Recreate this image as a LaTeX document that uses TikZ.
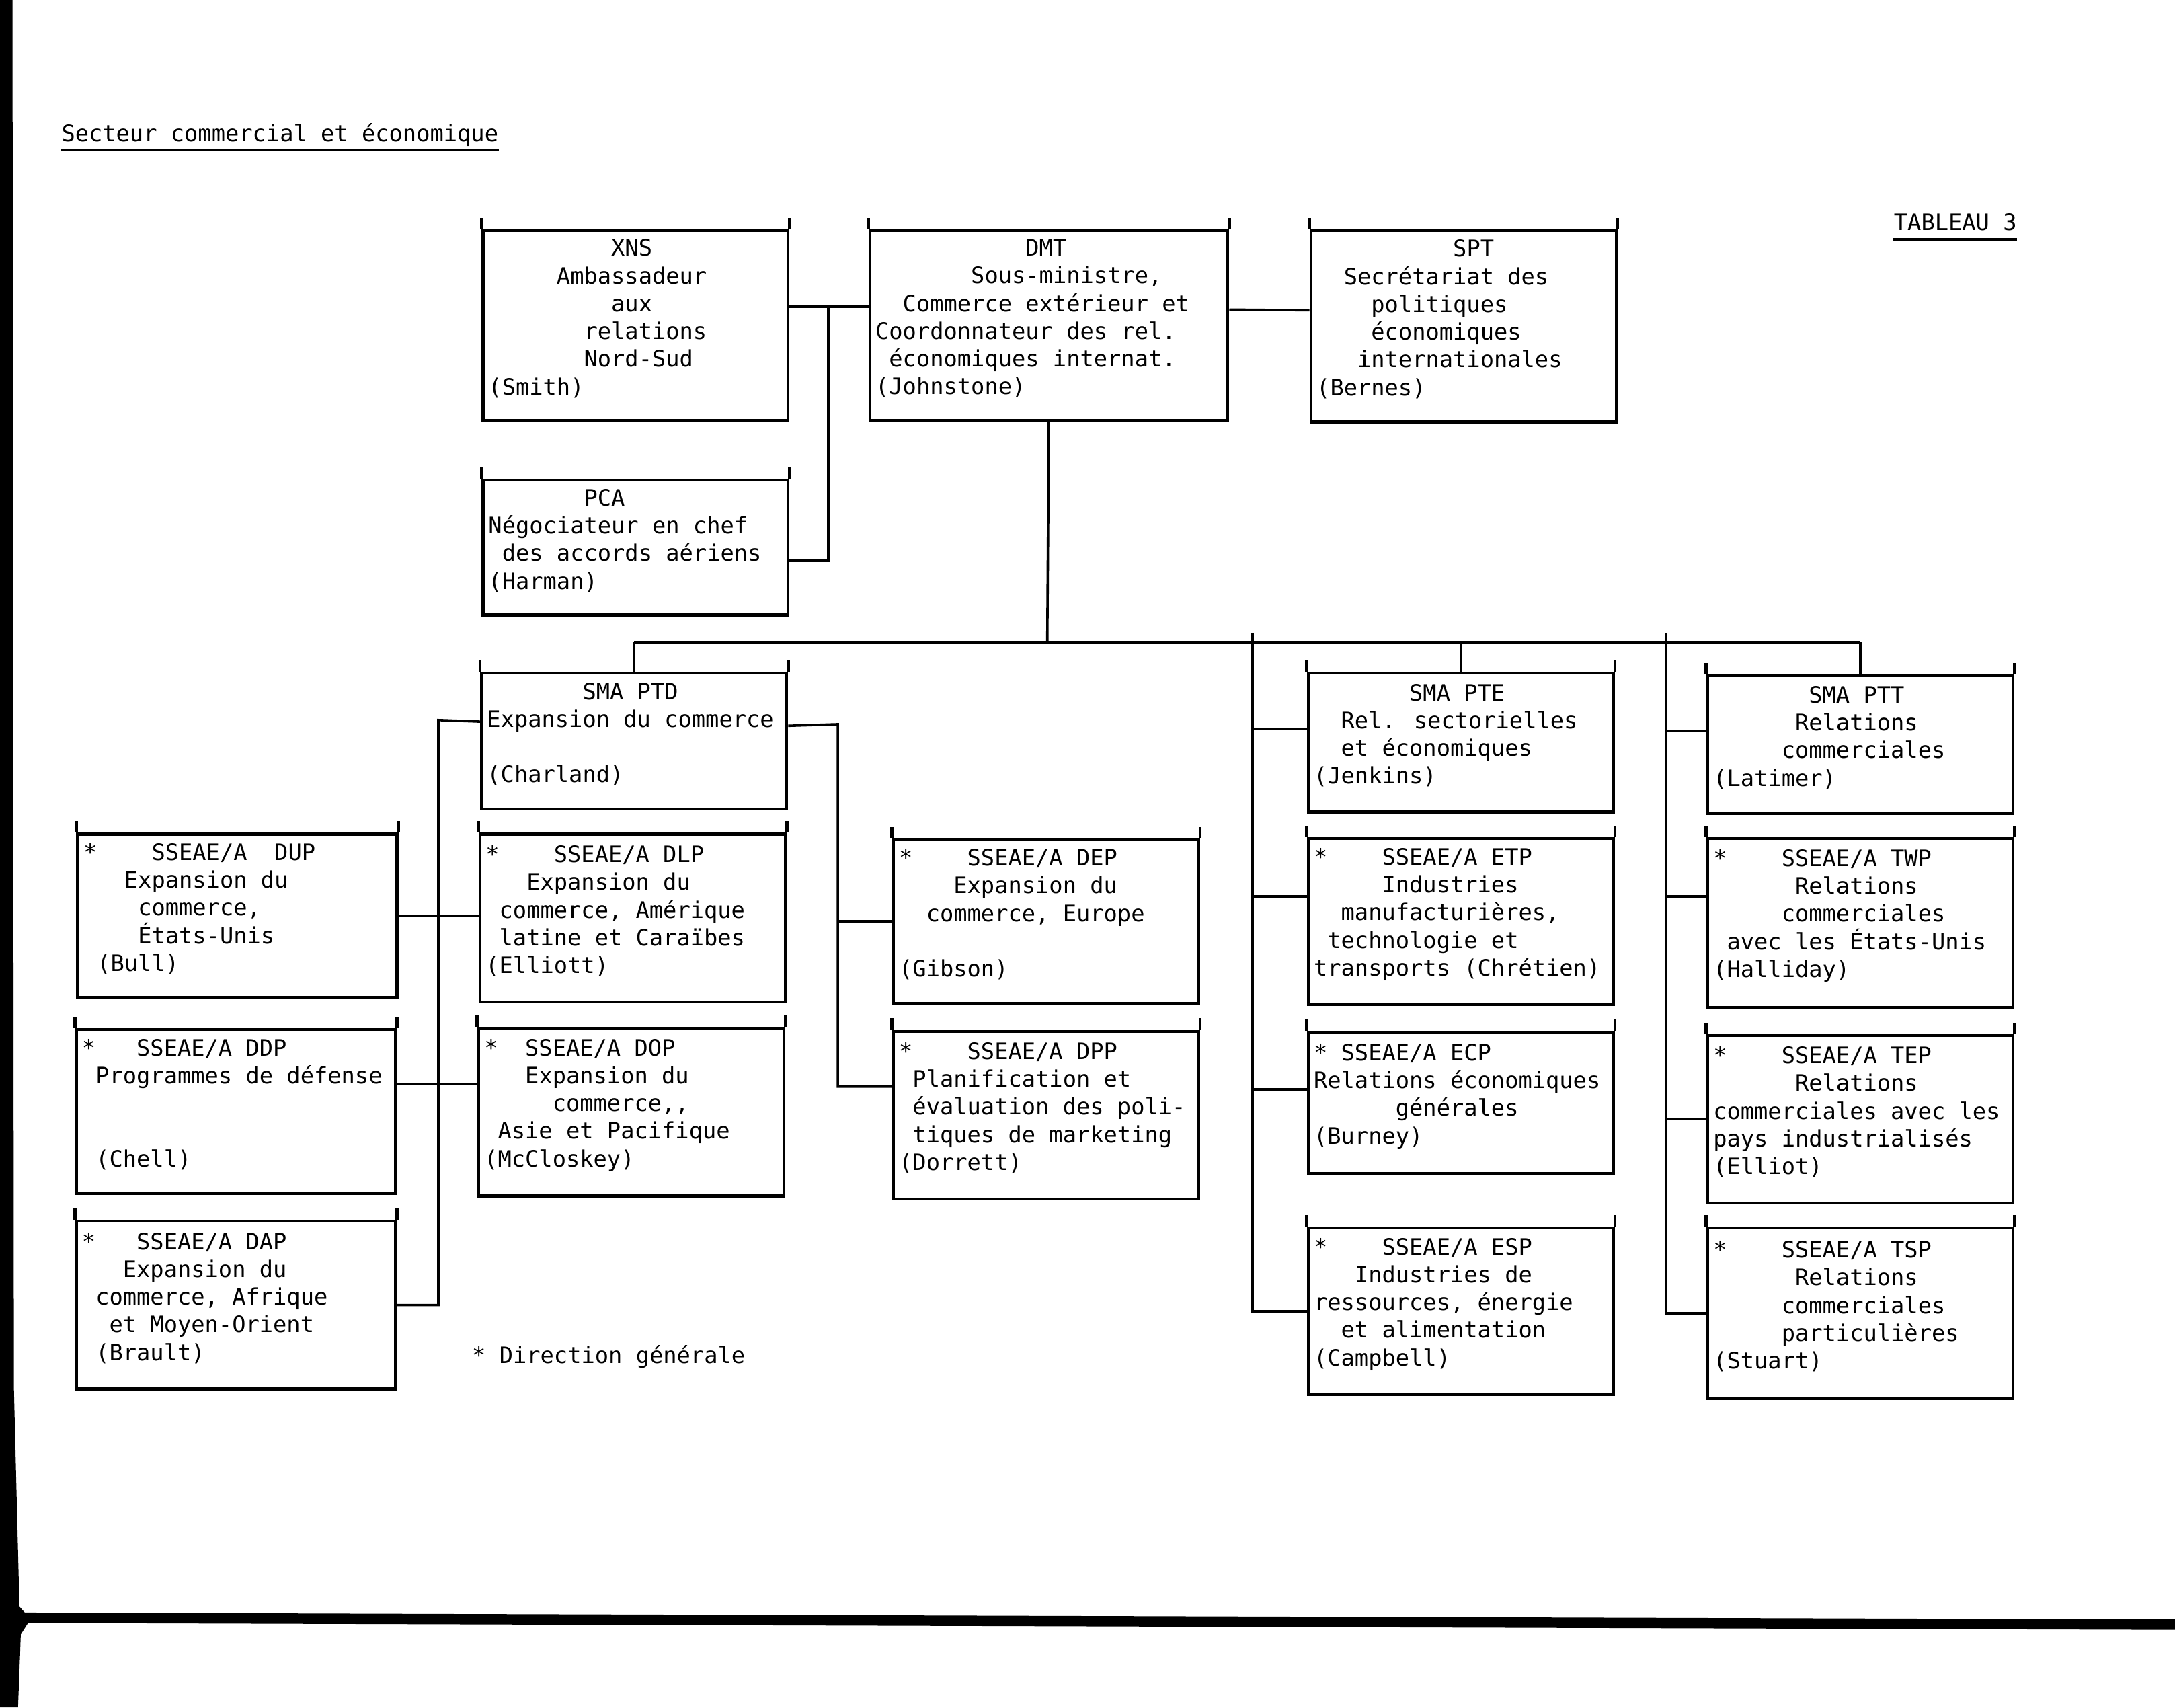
\documentclass[tikz,border=0pt]{standalone}
\usepackage{fontspec}
\usepackage{tikz}
\newfontfamily\orgtt{DejaVu Sans Mono}
\newcommand{\orgfont}{\orgtt\fontsize{9.3}{11.38}\selectfont}
\newcommand{\boxend}{\par\kern2mm}

\begin{document}
\begin{tikzpicture}[x=0.2mm,y=-0.2mm,
    box/.style={draw,rectangle,line width=0.45mm,anchor=north west,inner xsep=0.8mm,inner ysep=0.5mm,
        minimum width=44mm,text width=42.4mm,font=\orgfont,
        execute at begin node={\spaceskip=0pt\xspaceskip=0pt\parindent=0pt},
        execute at end node=\boxend},
    wide/.style={minimum width=46mm,text width=44.4mm},
    link/.style={line width=0.35mm},
    plain/.style={inner sep=0pt,anchor=west,font=\orgfont}]
        \useasboundingbox (0,0) rectangle (1568,1230.7);

        \node[plain] (titre) at (44,97) {Secteur commercial et économique};
        \node[plain] (tableau) at (1365,160) {TABLEAU 3};
        \node[plain] (note) at (340,978) {* Direction générale};
        \draw[link] ([yshift=-0.5mm]titre.south west) -- ([yshift=-0.5mm]titre.south east);
        \draw[link] ([yshift=-1.2mm]tableau.south west) -- ([yshift=-1.2mm]tableau.south east);

        % haut
        \node[box,minimum height=27.4mm] (xns) at (347,165) {~~~~~~~~~XNS\\~~~~~Ambassadeur\\~~~~~~~~~aux\\~~~~~~~relations\\~~~~~~~Nord-Sud\\(Smith)};
        \node[box,minimum width=51.6mm,text width=50mm,minimum height=27.4mm] (dmt) at (626,165) {~~~~~~~~~~~DMT\\~~~~~~~Sous-ministre,\\~~Commerce extérieur et\\Coordonnateur des rel.\\~économiques internat.\\(Johnstone)};
        \node[box,minimum height=27.6mm] (spt) at (944,165) {~~~~~~~~~~SPT\\~~Secrétariat des\\~~~~politiques\\~~~~économiques\\~~~internationales\\(Bernes)};
        \node[box,minimum height=19.4mm] (pca) at (347,345) {~~~~~~~PCA\\Négociateur en chef\\~des accords aériens\\(Harman)};

        % SMA
        \node[box,minimum height=19.6mm] (ptd) at (346,484) {~~~~~~~SMA PTD\\Expansion du commerce\\~\\(Charland)};
        \node[box,minimum height=20mm] (pte) at (942,484) {~~~~~~~SMA PTE\\~~Rel. sectorielles\\~~et économiques\\(Jenkins)};
        \node[box,minimum height=19.8mm] (ptt) at (1230,486) {~~~~~~~SMA PTT\\~~~~~~Relations\\~~~~~commerciales\\(Latimer)};

        % directions generales
        \node[box,wide,minimum height=23.6mm] (dup) at (55,600) {*~~~~SSEAE/A~~DUP\\~~~Expansion du\\~~~~commerce,\\~~~~États-Unis\\~(Bull)};
        \node[box,wide,minimum height=23.6mm] (ddp) at (54,741) {*~~~SSEAE/A DDP\\~Programmes de défense\\~\\~\\~(Chell)};
        \node[box,wide,minimum height=24.2mm] (dap) at (54,879) {*~~~SSEAE/A DAP\\~~~Expansion du\\~commerce, Afrique\\~~et Moyen-Orient\\~(Brault)};
        \node[box,minimum height=24.2mm] (dlp) at (345,600) {*~~~~SSEAE/A DLP\\~~~Expansion du\\~commerce, Amérique\\~latine et Caraïbes\\(Elliott)};
        \node[box,minimum height=24.2mm] (dop) at (344,740) {*~~SSEAE/A DOP\\~~~Expansion du\\~~~~~commerce,,\\~Asie et Pacifique\\(McCloskey)};
        \node[box,minimum height=23.6mm] (dep) at (643,604) {*~~~~SSEAE/A DEP\\~~~~Expansion du\\~~commerce, Europe\\~\\(Gibson)};
        \node[box,minimum height=24.2mm] (dpp) at (643,742) {*~~~~SSEAE/A DPP\\~Planification et\\~évaluation des poli-\\~tiques de marketing\\(Dorrett)};
        \node[box,minimum height=24mm] (etp) at (942,603) {*~~~~SSEAE/A ETP\\~~~~~Industries\\~~manufacturières,\\~technologie et\\transports (Chrétien)};
        \node[box,minimum height=20.4mm] (ecp) at (942,743) {*~SSEAE/A ECP\\Relations économiques\\~~~~~~générales\\(Burney)};
        \node[box,minimum height=24mm] (esp) at (942,884) {*~~~~SSEAE/A ESP\\~~~Industries de\\ressources, énergie\\~~et alimentation\\(Campbell)};
        \node[box,minimum height=24.4mm] (twp) at (1230,603) {*~~~~SSEAE/A TWP\\~~~~~~Relations\\~~~~~commerciales\\~avec les États-Unis\\(Halliday)};
        \node[box,minimum height=24.2mm] (tep) at (1230,745) {*~~~~SSEAE/A TEP\\~~~~~~Relations\\commerciales avec les\\pays industrialisés\\(Elliot)};
        \node[box,minimum height=24.6mm] (tsp) at (1230,884) {*~~~~SSEAE/A TSP\\~~~~~~Relations\\~~~~~commerciales\\~~~~~particulières\\(Stuart)};

        \foreach \b in {xns,dmt,spt,pca,ptd,pte,ptt,dup,ddp,dap,dlp,dop,dep,dpp,etp,ecp,esp,twp,tep,tsp}
            \draw[line width=0.45mm] (\b.north west) -- ++(0,-8) (\b.north east) -- ++(0,-8);

        \coordinate (j1) at (597,221);
        \coordinate (bus) at (755,463);
        \coordinate (vd) at (316,519);
        \coordinate (vp) at (604,522);
        \coordinate (ve) at (903,456);
        \coordinate (vt) at (1201,456);

        \draw[link] (xns.east |- j1) -- (dmt.west |- j1);
        \draw[link] (j1) |- ([yshift=-1.9mm]pca.east);
        \draw[link] ([yshift=2.3mm]dmt.east) -- ([yshift=2.3mm]spt.west);
        \draw[link] (dmt.south) -- (bus);
        \draw[link] (ptd.north |- bus) -- (ptt.north |- bus);
        \draw[link] (ptd.north |- bus) -- (ptd.north);
        \draw[link] (pte.north |- bus) -- (pte.north);
        \draw[link] (ptt.north |- bus) -- (ptt.north);

        \draw[link] ([yshift=2.8mm]ptd.west) -- (vd) |- (dap.east);
        \draw[link] (dup.east) -- (dup.east -| dlp.west);
        \draw[link] ([yshift=4mm]ddp.east) -- ([yshift=4mm]ddp.east -| dop.west);
        \draw[link] ([yshift=2.2mm]ptd.east) -- (vp) |- ([yshift=4.1mm]dpp.west);
        \draw[link] (vp |- dep.west) -- (dep.west);

        \draw[link] (ve) |- (esp.west);
        \draw[link] ([yshift=2mm]pte.west -| ve) -- ([yshift=2mm]pte.west);
        \draw[link] ([yshift=3.6mm]etp.west -| ve) -- ([yshift=3.6mm]etp.west);
        \draw[link] ([yshift=2mm]ecp.west -| ve) -- ([yshift=2mm]ecp.west);
        \draw[link] (vt) |- (tsp.west);
        \draw[link] ([yshift=1.9mm]ptt.west -| vt) -- ([yshift=1.9mm]ptt.west);
        \draw[link] ([yshift=3.8mm]twp.west -| vt) -- ([yshift=3.8mm]twp.west);
        \draw[link] (tep.west -| vt) -- (tep.west);

        % bord de la page
        \fill (0,0) -- (9,0) -- (10,1000) -- (14,1158) -- (22,1167) -- (15,1178) -- (13,1230.7) -- (0,1230.7) -- cycle;
        \draw[line width=1.5mm] (14,1166) -- (1568,1171);
    \end{tikzpicture}
\end{document}
